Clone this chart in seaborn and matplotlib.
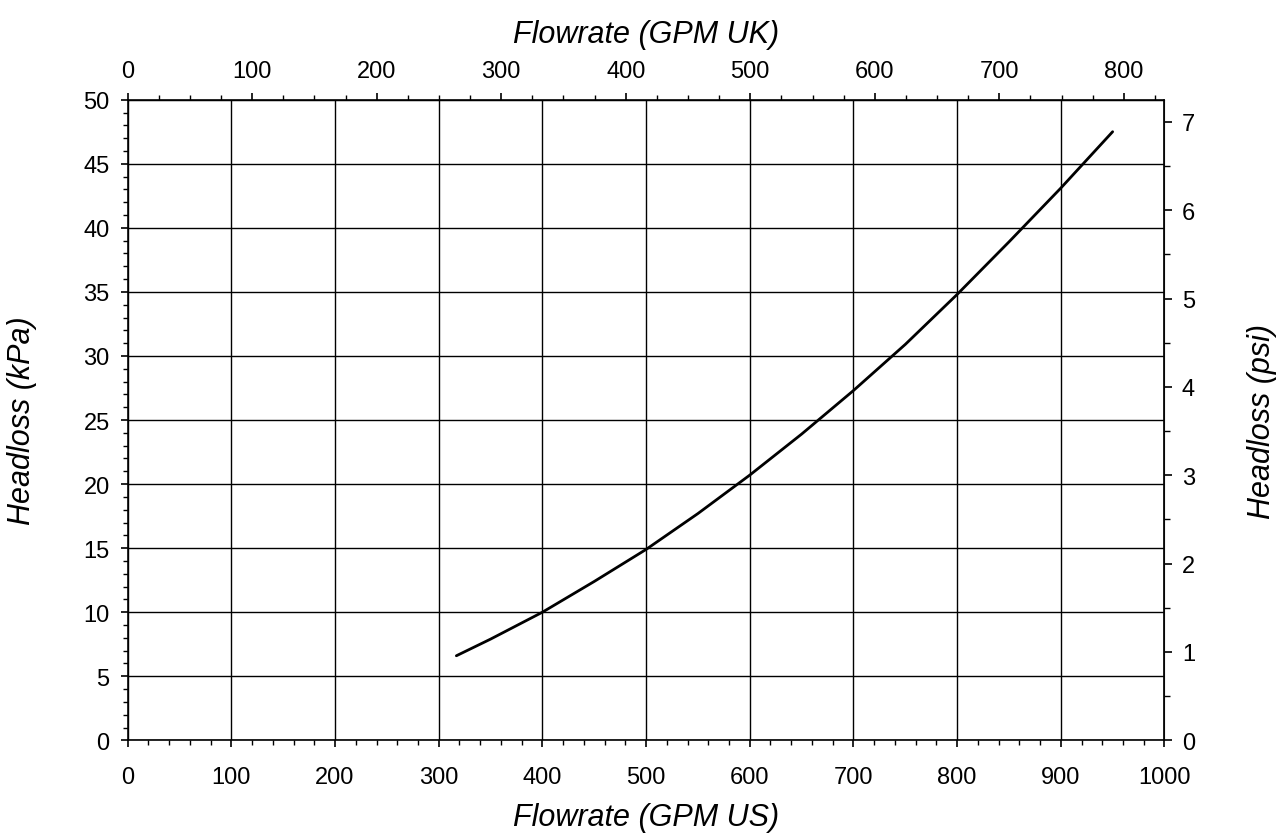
import seaborn as sns
import matplotlib.pyplot as plt
import pandas as pd
import numpy as np
from matplotlib.ticker import MultipleLocator, FixedLocator

# curve (GPM US vs kPa)
flow_us = [317, 350, 400, 450, 500, 550, 600, 650, 700, 750, 800, 850, 900, 950]
headloss_kpa = [6.6, 7.9, 10.0, 12.4, 14.9, 17.7, 20.7, 23.9, 27.3, 30.9, 34.8, 38.9, 43.1, 47.5]

US_PER_UK = 1.20095
KPA_PER_PSI = 6.89476

data = pd.DataFrame({'flow': flow_us, 'kpa': headloss_kpa})

sns.set_style("white")
plt.rcParams['font.family'] = ['Liberation Sans', 'DejaVu Sans']
plt.rcParams.update({'text.color': 'black', 'axes.labelcolor': 'black',
                     'xtick.color': 'black', 'ytick.color': 'black'})

fig = plt.figure(figsize=(12.86, 8.37), dpi=100)
ax = fig.add_axes([0.0993, 0.1143, 0.8062, 0.7654])

sns.lineplot(data=data, x='flow', y='kpa', ax=ax, color='black', linewidth=2.0, sort=True)

ax.set_xlim(0, 1000)
ax.set_ylim(0, 50)
ax.xaxis.set_major_locator(MultipleLocator(100))
ax.xaxis.set_minor_locator(MultipleLocator(20))
ax.yaxis.set_major_locator(MultipleLocator(5))
ax.yaxis.set_minor_locator(MultipleLocator(1))
ax.grid(True, which='major', color='black', linewidth=1.0)
for s in ax.spines.values():
    s.set_color('black')
    s.set_linewidth(1.2)

TICK_FS = 17
LABEL_FS = 22
tick_kw = dict(direction='out', color='black', labelsize=TICK_FS, labelcolor='black')
ax.tick_params(which='both', left=True, bottom=True, top=False, right=False)
ax.tick_params(axis='x', which='major', length=5, width=1.2, pad=13.5, **tick_kw)
ax.tick_params(axis='x', which='minor', length=3.6, width=1.0, **tick_kw)
ax.tick_params(axis='y', which='major', length=5, width=1.2, pad=8, **tick_kw)
ax.tick_params(axis='y', which='minor', length=3.6, width=1.0, **tick_kw)

ax.set_xlabel('Flowrate (GPM US)', fontsize=LABEL_FS, style='italic')
ax.set_ylabel('Headloss (kPa)', fontsize=LABEL_FS, style='italic')
ax.xaxis.set_label_coords(0.5, -0.097)
ax.yaxis.set_label_coords(-0.0875, 0.5)

# top axis in UK gallons
top = ax.secondary_xaxis('top', functions=(lambda x: x / US_PER_UK, lambda x: x * US_PER_UK))
top.xaxis.set_major_locator(FixedLocator(np.arange(0, 801, 100)))
top.xaxis.set_minor_locator(FixedLocator(np.arange(0, 826, 25)))
top.tick_params(which='major', length=5, width=1.2, pad=8, **tick_kw)
top.tick_params(which='minor', length=3.6, width=1.0, **tick_kw)
top.set_xlabel('Flowrate (GPM UK)', fontsize=LABEL_FS, style='italic')
top.xaxis.set_label_coords(0.5, 1.09, transform=ax.transAxes)

# right axis in psi
right = ax.secondary_yaxis('right', functions=(lambda y: y / KPA_PER_PSI, lambda y: y * KPA_PER_PSI))
right.yaxis.set_major_locator(FixedLocator(np.arange(0, 8, 1)))
right.yaxis.set_minor_locator(FixedLocator(np.arange(0, 7.3, 0.5)))
right.tick_params(which='major', length=5.5, width=1.2, pad=7, **tick_kw)
right.tick_params(which='minor', length=4.5, width=1.0, **tick_kw)
right.set_ylabel('Headloss (psi)', fontsize=LABEL_FS, style='italic', rotation=90)
right.yaxis.set_label_coords(1.0796, 0.5, transform=ax.transAxes)

fig.savefig('out.png', dpi=100)
